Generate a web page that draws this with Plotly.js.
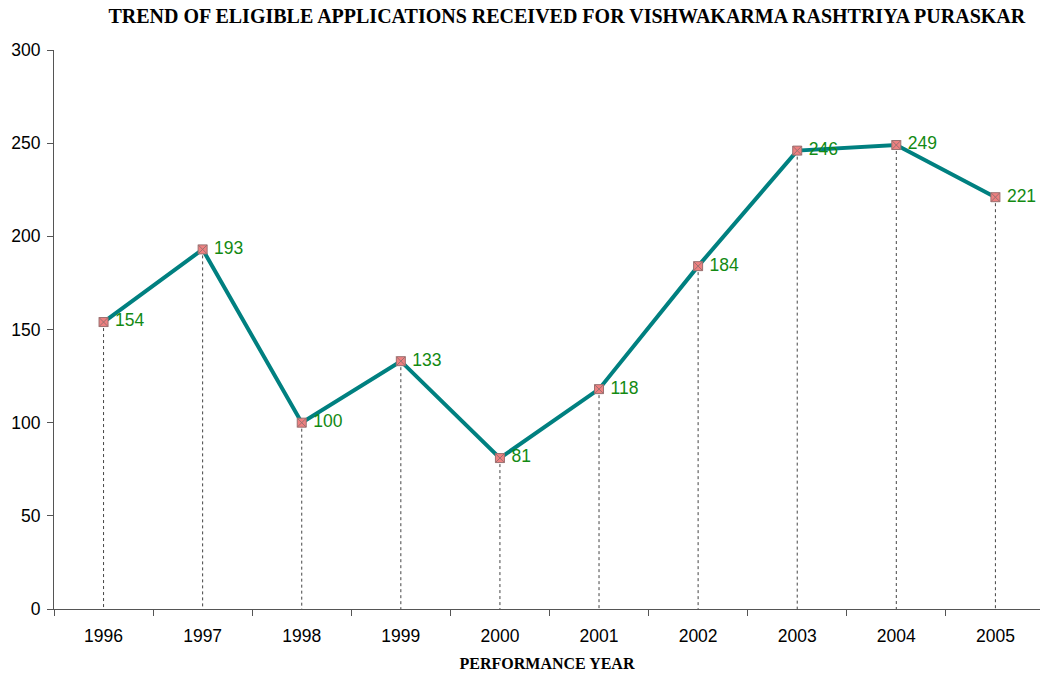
<!DOCTYPE html>
<html>
<head>
<meta charset="utf-8">
<script src="https://cdn.plot.ly/plotly-3.0.1.min.js"></script>
<style>
  html, body { margin: 0; padding: 0; background: #fff; }
  #chart { width: 1040px; height: 679px; }
</style>
</head>
<body>
<div id="chart"></div>
<script>
// 数据
var years = ['1996', '1997', '1998', '1999', '2000', '2001', '2002', '2003', '2004', '2005'];
var applications = [154, 193, 100, 133, 81, 118, 184, 246, 249, 221];

// 垂直虚线（从点落到 x 轴）
var dropX = [];
var dropY = [];
years.forEach(function (yr, i) {
  dropX.push(yr, yr, null);
  dropY.push(applications[i], 0, null);
});

var drops = {
  x: dropX,
  y: dropY,
  type: 'scatter',
  mode: 'lines',
  line: { color: '#444', width: 1, dash: 'dot' },
  hoverinfo: 'skip',
  showlegend: false
};

var trend = {
  x: years,
  y: applications,
  type: 'scatter',
  mode: 'lines+markers+text',
  line: { color: '#008080', width: 4 },
  marker: {
    symbol: 'square-x',
    size: 9,
    color: '#ee8080',
    line: { color: '#9a7070', width: 1 }
  },
  text: applications.map(function (v) { return '\u00a0' + v; }),
  textposition: 'middle right',
  textfont: { family: 'Liberation Sans, Arial, sans-serif', size: 17.5, color: '#138a13' },
  cliponaxis: false,
  showlegend: false
};

var layout = {
  width: 1040,
  height: 679,
  paper_bgcolor: '#fff',
  plot_bgcolor: '#fff',
  margin: { l: 54, r: 0, t: 50, b: 70 },
  title: {
    text: 'TREND OF ELIGIBLE APPLICATIONS RECEIVED FOR VISHWAKARMA RASHTRIYA PURASKAR',
    font: { family: 'Liberation Serif, Times New Roman, serif', size: 20, color: '#000', weight: 'bold' },
    x: 0.545,
    xanchor: 'center',
    y: 0.976,
    yanchor: 'middle'
  },
  xaxis: {
    type: 'category',
    range: [-0.5, 9.45],
    showgrid: false,
    zeroline: false,
    showline: true,
    linecolor: '#555',
    linewidth: 1,
    ticks: 'outside',
    ticklen: 6,
    tickcolor: '#555',
    tickson: 'boundaries',
    ticklabelstandoff: 11,
    tickfont: { family: 'Liberation Sans, Arial, sans-serif', size: 17.5, color: '#000' },
    title: {
      text: 'PERFORMANCE YEAR',
      font: { family: 'Liberation Serif, Times New Roman, serif', size: 16, color: '#000', weight: 'bold' },
      standoff: 12
    },
    fixedrange: true
  },
  yaxis: {
    range: [0, 300],
    dtick: 50,
    showgrid: false,
    zeroline: false,
    showline: true,
    linecolor: '#555',
    linewidth: 1,
    ticks: 'outside',
    ticklen: 6,
    tickcolor: '#555',
    ticklabelstandoff: 3,
    tickfont: { family: 'Liberation Sans, Arial, sans-serif', size: 17.5, color: '#000' },
    fixedrange: true
  }
};

Plotly.newPlot('chart', [drops, trend], layout, { displayModeBar: false, staticPlot: true });
</script>
</body>
</html>
